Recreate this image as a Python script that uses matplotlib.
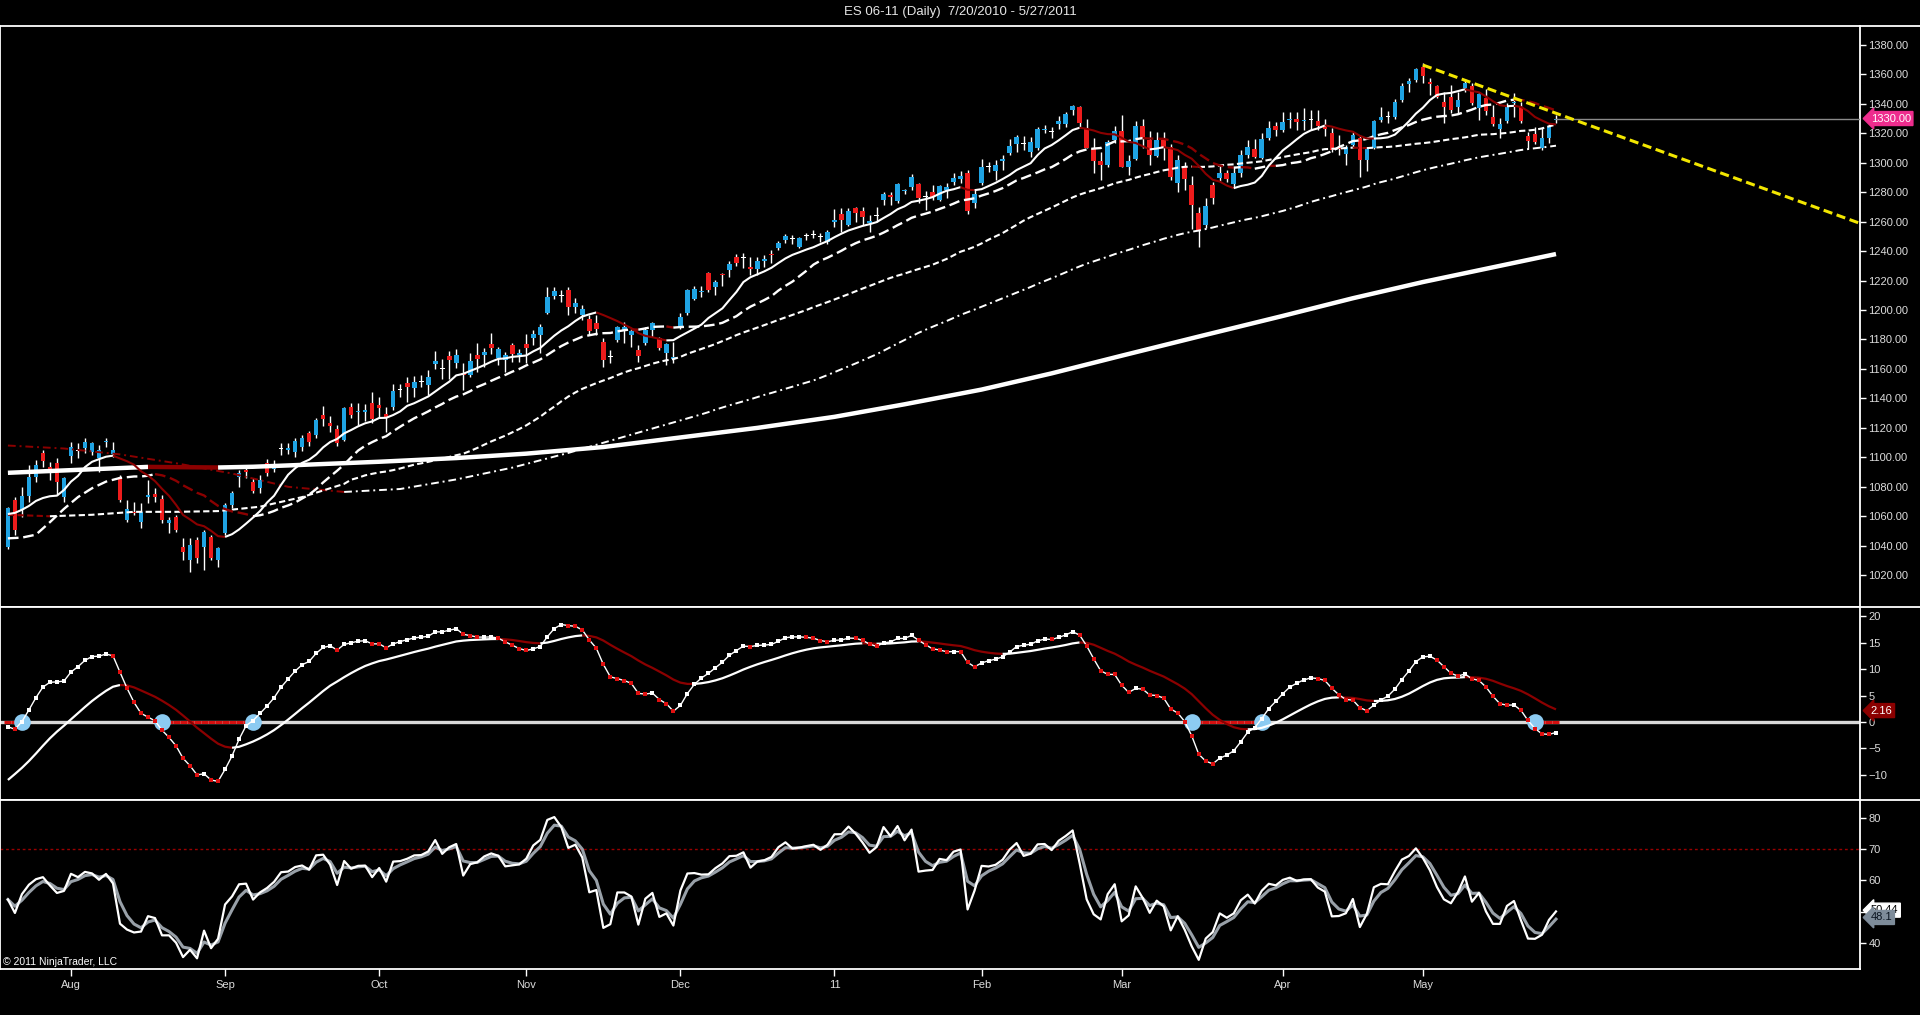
import numpy as np
import pandas as pd
import matplotlib
matplotlib.use("Agg")
import matplotlib.pyplot as plt
from matplotlib.transforms import blended_transform_factory
from matplotlib.lines import Line2D

plt.rcParams['font.family'] = ['Liberation Sans', 'DejaVu Sans']

title = "ES 06-11 (Daily)  7/20/2010 - 5/27/2011"
copyright_txt = "\u00a9 2011 NinjaTrader, LLC"

# ---------------- daily bars 7/20/2010 .. 5/27/2011 (222 bars) ----------------
opens = [1039.3,1071.0,1064.2,1073.7,1086.8,1102.7,1093.6,1095.9,1072.8,1101.1,
 1104.5,1106.1,1103.8,1099.3,1110.4,1102.0,1086.8,1057.4,1063.1,1056.3,
 1072.8,1075.0,1071.4,1055.2,1059.7,1038.9,1030.3,1043.8,1039.3,1046.1,
 1030.3,1048.4,1067.6,1086.4,1091.4,1083.4,1078.9,1096.3,1091.8,1106.2,
 1105.0,1103.8,1107.2,1116.2,1115.1,1128.7,1123.5,1119.0,1112.0,1133.9,
 1130.5,1130.8,1136.6,1135.5,1129.4,1134.4,1145.8,1150.6,1147.3,1151.5,
 1149.0,1163.6,1160.3,1168.7,1163.8,1157.2,1155.8,1169.7,1169.4,1176.9,
 1167.6,1166.0,1176.2,1169.2,1176.8,1180.7,1183.0,1197.7,1209.6,1209.8,
 1213.5,1202.2,1196.6,1193.9,1190.9,1178.0,1168.3,1179.6,1186.0,1183.0,
 1172.8,1177.3,1186.4,1181.0,1170.6,1166.5,1188.2,1197.7,1207.6,1212.4,
 1225.3,1215.8,1224.5,1227.1,1236.2,1235.3,1229.4,1227.7,1233.6,1238.1,
 1241.8,1247.2,1248.3,1243.0,1250.2,1251.2,1249.7,1246.3,1259.8,1265.1,
 1257.7,1269.0,1267.4,1258.8,1264.2,1274.6,1278.0,1274.0,1280.5,1283.7,
 1285.5,1276.8,1280.1,1274.6,1281.4,1287.1,1288.7,1292.7,1272.4,1286.0,
 1297.3,1294.6,1301.1,1306.3,1312.7,1312.8,1307.5,1309.7,1322.2,1321.0,
 1326.3,1326.5,1336.0,1337.8,1323.3,1309.0,1301.4,1298.4,1315.4,1321.2,
 1297.3,1302.6,1324.9,1315.4,1304.8,1315.4,1311.0,1286.0,1297.5,1285.0,
 1266.0,1258.0,1285.0,1289.4,1293.2,1285.5,1293.2,1305.2,1309.3,1303.0,
 1316.5,1324.9,1322.4,1328.7,1329.6,1328.0,1329.4,1328.4,1324.0,1320.4,
 1310.0,1306.0,1312.0,1316.5,1302.0,1309.7,1329.2,1331.3,1331.2,1342.6,
 1353.2,1356.1,1365.2,1354.5,1352.0,1341.0,1344.8,1338.0,1350.5,1352.0,
 1337.4,1343.7,1331.2,1322.6,1328.5,1340.3,1338.0,1318.0,1319.5,1309.7,
 1316.5,1328.7]

highs = [1066.5,1072.8,1080.0,1094.8,1098.1,1104.9,1097.0,1099.3,1086.8,1110.6,
 1109.5,1112.9,1110.6,1108.3,1112.9,1110.6,1088.0,1071.0,1069.9,1068.7,
 1084.6,1078.9,1074.4,1059.7,1060.8,1045.0,1045.0,1046.1,1050.6,1047.2,
 1039.3,1068.7,1077.1,1091.4,1093.0,1085.7,1088.0,1099.0,1098.0,1109.5,
 1110.0,1113.0,1115.0,1118.0,1127.0,1134.8,1128.0,1122.0,1134.0,1136.6,
 1137.0,1136.0,1144.6,1141.2,1134.3,1150.0,1149.5,1154.2,1155.0,1155.8,
 1159.5,1172.0,1167.0,1172.4,1173.4,1164.0,1170.8,1177.3,1174.0,1184.2,
 1174.6,1171.7,1177.3,1173.5,1184.0,1186.6,1190.5,1215.8,1215.8,1213.5,
 1215.6,1207.9,1203.4,1196.6,1196.6,1180.7,1172.8,1189.1,1192.0,1186.9,
 1176.2,1188.2,1192.0,1182.0,1177.8,1178.5,1198.2,1214.0,1216.3,1216.3,
 1225.5,1220.5,1225.3,1233.2,1237.8,1238.4,1236.0,1236.0,1237.3,1240.7,
 1247.0,1251.5,1250.8,1249.7,1252.3,1254.0,1252.5,1254.0,1268.5,1269.0,
 1269.0,1270.0,1270.0,1264.4,1269.6,1280.3,1280.0,1286.0,1282.3,1292.3,
 1286.0,1281.0,1284.8,1284.8,1286.0,1292.7,1294.3,1295.0,1281.4,1302.2,
 1300.7,1301.8,1305.2,1315.8,1318.8,1318.0,1317.6,1324.4,1325.6,1324.5,
 1331.5,1334.5,1339.2,1338.2,1330.0,1316.5,1307.5,1315.4,1324.7,1332.3,
 1305.2,1328.0,1330.0,1321.2,1321.0,1321.0,1312.5,1305.2,1300.5,1291.0,
 1270.0,1276.0,1287.0,1298.4,1295.0,1297.3,1308.6,1315.4,1316.1,1319.9,
 1328.5,1327.5,1334.6,1334.6,1334.6,1336.9,1336.0,1335.8,1330.0,1323.3,
 1318.8,1312.0,1321.0,1318.8,1311.0,1329.0,1338.0,1335.0,1343.5,1353.9,
 1357.3,1364.0,1367.4,1357.3,1352.7,1348.0,1352.7,1348.0,1356.6,1353.9,
 1348.2,1349.8,1339.2,1330.1,1340.3,1347.1,1341.4,1321.0,1324.0,1324.0,
 1326.1,1332.4]

lows = [1038.0,1047.2,1059.7,1069.9,1083.4,1093.6,1084.6,1074.4,1069.8,1095.9,
 1099.3,1102.7,1101.5,1090.2,1107.2,1100.4,1069.9,1056.3,1060.8,1052.2,
 1068.7,1069.5,1055.2,1048.4,1049.5,1030.3,1022.3,1028.0,1023.5,1030.3,
 1025.7,1047.2,1065.3,1080.0,1086.0,1075.5,1076.0,1087.0,1090.0,1101.5,
 1102.0,1100.0,1104.0,1108.0,1113.0,1121.0,1117.0,1108.0,1111.0,1127.0,
 1122.0,1125.0,1123.0,1127.6,1117.4,1132.0,1141.0,1137.8,1141.2,1148.0,
 1142.0,1160.2,1153.3,1153.3,1160.4,1145.7,1154.7,1158.1,1161.5,1170.3,
 1162.6,1158.1,1164.5,1164.9,1163.8,1176.5,1170.6,1197.3,1207.4,1205.6,
 1196.6,1197.7,1193.2,1183.0,1183.0,1161.5,1163.8,1178.5,1177.3,1175.1,
 1164.9,1176.2,1181.9,1172.8,1162.6,1163.8,1187.1,1196.6,1206.8,1209.0,
 1212.0,1210.0,1216.5,1222.6,1229.6,1228.3,1223.7,1223.7,1229.4,1231.6,
 1240.7,1245.5,1245.0,1241.8,1247.5,1249.0,1246.5,1244.5,1256.5,1253.0,
 1257.0,1260.0,1257.7,1253.0,1260.0,1271.3,1271.0,1272.4,1279.0,1281.4,
 1272.4,1268.0,1275.0,1274.0,1276.0,1284.8,1286.0,1265.0,1269.0,1284.8,
 1293.9,1288.2,1295.0,1305.2,1307.5,1308.6,1304.0,1308.6,1320.0,1317.0,
 1322.6,1324.0,1332.3,1324.2,1309.7,1293.0,1288.2,1297.0,1313.1,1296.8,
 1291.6,1302.0,1309.7,1298.4,1304.0,1302.0,1288.2,1280.0,1281.4,1255.0,
 1243.0,1256.0,1272.0,1287.5,1287.0,1283.7,1290.5,1303.0,1303.0,1302.3,
 1315.4,1318.0,1321.0,1323.3,1322.2,1322.0,1322.0,1322.2,1318.0,1307.5,
 1305.0,1298.4,1310.0,1290.5,1294.6,1309.0,1327.9,1327.0,1330.0,1341.4,
 1348.0,1355.0,1353.9,1346.0,1343.7,1326.7,1333.5,1333.5,1348.2,1339.2,
 1329.0,1332.4,1324.9,1316.5,1326.7,1331.2,1326.7,1309.0,1313.0,1308.6,
 1313.1,1327.0]

closes = [1065.3,1050.6,1073.7,1086.8,1094.8,1097.7,1090.2,1083.4,1085.7,1106.7,
 1104.0,1110.6,1109.5,1105.0,1111.3,1104.9,1071.0,1064.9,1061.9,1062.6,
 1074.4,1072.8,1057.4,1057.4,1050.6,1035.9,1040.4,1031.4,1049.5,1031.4,
 1038.2,1067.6,1076.0,1089.5,1090.2,1077.3,1084.6,1089.1,1095.4,1105.8,
 1106.5,1111.3,1112.9,1110.6,1125.3,1126.0,1121.0,1110.0,1133.2,1128.7,
 1131.6,1131.8,1125.8,1133.7,1126.5,1145.0,1145.5,1147.8,1151.0,1151.3,
 1154.5,1165.6,1160.0,1166.2,1169.3,1155.8,1165.1,1166.7,1171.7,1174.3,
 1173.4,1169.4,1170.1,1170.7,1174.3,1183.7,1188.2,1209.0,1212.8,1209.5,
 1202.2,1205.0,1200.4,1185.7,1187.1,1166.0,1168.0,1188.2,1188.2,1186.0,
 1168.7,1186.4,1190.9,1174.4,1176.9,1167.8,1195.4,1213.5,1214.0,1213.0,
 1213.3,1219.2,1223.8,1231.2,1231.6,1235.0,1228.0,1233.3,1234.4,1237.1,
 1245.7,1250.3,1248.0,1248.8,1250.0,1251.0,1249.5,1253.0,1261.0,1261.1,
 1267.4,1265.6,1263.3,1260.6,1264.0,1279.0,1276.5,1285.3,1281.2,1290.5,
 1275.8,1276.5,1276.9,1284.1,1283.7,1289.4,1290.9,1267.3,1278.5,1297.3,
 1297.0,1298.4,1302.5,1311.3,1317.6,1312.5,1314.3,1322.6,1322.9,1320.8,
 1328.6,1333.0,1338.4,1326.7,1310.0,1301.4,1298.3,1314.0,1321.3,1297.3,
 1301.4,1324.9,1316.7,1305.2,1315.4,1311.0,1290.5,1301.8,1289.0,1271.0,
 1253.5,1270.5,1276.0,1293.2,1288.8,1292.8,1305.2,1310.9,1303.6,1316.1,
 1323.3,1322.2,1327.6,1329.7,1327.8,1329.0,1329.2,1324.9,1322.8,1308.8,
 1309.0,1310.5,1318.6,1302.0,1309.7,1328.5,1331.2,1331.0,1341.4,1352.0,
 1355.5,1363.3,1358.9,1353.2,1344.8,1338.0,1335.8,1342.9,1354.3,1340.3,
 1346.6,1335.1,1326.3,1326.3,1337.6,1340.9,1328.5,1314.5,1314.3,1316.5,
 1324.9,1330.0]

# month starts (bar index) and axis labels
month_ticks = [9, 31, 53, 74, 96, 118, 139, 159, 182, 202]
month_labels = ['Aug', 'Sep', 'Oct', 'Nov', 'Dec', '11', 'Feb', 'Mar', 'Apr', 'May']

# moving-average values before their windows fill
sma10_head_idx = [0, 1, 2, 3, 4, 5, 6, 7, 8]
sma10_head = [1061.5, 1062.3, 1064.4, 1067.0, 1070.4, 1072.4, 1073.6, 1074.0, 1077.8]
sma20_head_idx = [0, 2, 4, 6, 8, 10, 12, 14, 16, 18]
sma20_head = [1045.0, 1045.5, 1047.5, 1056.0, 1065.0, 1073.0, 1079.0, 1083.5, 1086.0, 1087.0]
sma50_head_idx = [0, 6, 12, 18, 24, 30, 36, 42, 48]
sma50_head = [1061.0, 1060.0, 1061.0, 1063.0, 1063.0, 1063.5, 1066.5, 1073.0, 1082.0]
sma100_head_idx = [0, 8, 16, 24, 32, 40, 48, 56, 64, 72, 80, 88, 96]
sma100_head = [1108.0, 1106.0, 1102.0, 1096.0, 1089.0, 1080.0, 1076.5, 1078.5, 1085.0, 1093.0, 1103.0, 1114.0, 1125.0]
sma200_idx = [0, 10, 20, 25, 30, 35, 40, 53, 64, 74, 85, 96, 107, 118, 128, 139, 149, 159, 170, 182, 192, 202, 212, 221]
sma200 = [1089.5, 1091.5, 1093.5, 1093.3, 1093.1, 1093.6, 1094.5, 1097.0, 1099.5, 1102.5, 1107.0, 1113.5, 1120.0,
          1127.5, 1136.0, 1146.0, 1157.0, 1169.0, 1182.0, 1196.0, 1208.0, 1219.0, 1229.0, 1238.0]

# indicator starting states (at first bar)
macd_ema12_start, macd_ema26_start, macd_avg_start = 1057.6, 1058.5, -11.0
rsi_gain_start, rsi_loss_start = 7.0, 6.0

# trend line and value tags
trend_x = [202, 264.3]
trend_y = [1366.3, 1259.0]
last_price = 1330.00
macd_avg_last = 2.16
rsi_last = 50.44
rsi_avg_last = 48.1

# ---------------------------------------------------------------------------
o = np.array(opens); h = np.array(highs); l = np.array(lows); c = np.array(closes)
N = len(c); idx = np.arange(N)

W, H = 1920, 1015
fig = plt.figure(figsize=(W / 100, H / 100), dpi=100, facecolor='black')

def rect(x0, y0, x1, y1):
    return [x0 / W, 1 - y1 / H, (x1 - x0) / W, (y1 - y0) / H]

ax1 = fig.add_axes(rect(0, 26, 1860, 607))
ax2 = fig.add_axes(rect(0, 607, 1860, 800))
ax3 = fig.add_axes(rect(0, 800, 1860, 969))
XL = (-1.13, 264.4)
for ax in (ax1, ax2, ax3):
    ax.set_facecolor('black')
    ax.set_xlim(*XL)
    for s in ax.spines.values():
        s.set_color('white'); s.set_linewidth(1.3)
    ax.yaxis.tick_right()
    ax.tick_params(axis='y', which='both', direction='out', length=4, width=1,
                   colors='white', labelcolor='#DCDCDC', labelsize=8, pad=2,
                   left=False, right=True)
    ax.tick_params(axis='x', bottom=False, labelbottom=False)

UP, DN = '#FFFFFF', '#8B0000'

def plot_colored(ax, x, y, ls, lw, z=4):
    x = np.asarray(x, float); y = np.asarray(y, float)
    rising = np.diff(y) >= 0
    start = 0
    for k in range(1, len(rising) + 1):
        if k == len(rising) or rising[k] != rising[start]:
            ax.plot(x[start:k + 1], y[start:k + 1], color=UP if rising[start] else DN,
                    ls=ls, lw=lw, zorder=z, solid_capstyle='butt', dash_capstyle='butt')
            start = k

# ---------------- price panel ----------------
ax1.set_ylim(998.4, 1392.8)
ax1.set_yticks(np.arange(1020, 1381, 20))
ax1.set_yticklabels([f'{v:.2f}' for v in np.arange(1020, 1381, 20)])

ax1.vlines(idx, l, h, color='white', lw=1.0, zorder=2)
body_b = np.minimum(o, c)
body_h = np.maximum(np.abs(c - o), 0.7)
cols = np.where(np.abs(c - o) < 0.55, '#FFFFFF', np.where(c >= o, '#1FA3E3', '#EE1C1C'))
ax1.bar(idx, body_h, bottom=body_b, width=0.66, color=cols, edgecolor='none', zorder=3)

cs = pd.Series(c)
def ma_line(head_idx, head_val, n):
    comp = cs.rolling(n).mean().values
    x = list(head_idx) + list(range(n - 1, N))
    y = list(head_val) + list(comp[n - 1:])
    return x, y

plot_colored(ax1, sma200_idx, sma200, '-', 3.2)
x, y = ma_line(sma100_head_idx, sma100_head, 100)
plot_colored(ax1, x, y, (0, (4, 2, 1, 2)), 1.4)
x, y = ma_line(sma50_head_idx, sma50_head, 50)
plot_colored(ax1, x, y, (0, (3, 1.6)), 1.5)
x, y = ma_line(sma20_head_idx, sma20_head, 20)
plot_colored(ax1, x, y, (0, (4.5, 2)), 1.7)
x, y = ma_line(sma10_head_idx, sma10_head, 10)
plot_colored(ax1, x, y, '-', 1.5)

ax1.plot([N - 1, XL[1]], [last_price, last_price], color='#8A8A8A', lw=1, zorder=3)
ax1.plot(trend_x, trend_y, color='#F2E600', lw=2.2, ls=(0, (3, 1.5)), zorder=6)

tr1 = blended_transform_factory(ax1.transAxes, ax1.transData)
ax1.text(1.0058, last_price, f'{last_price:.2f}', transform=tr1, ha='left', va='center',
         fontsize=8, color='white', clip_on=False, zorder=10,
         bbox=dict(boxstyle='larrow,pad=0.18', fc='#EE2D8E', ec='#EE2D8E'))

# ---------------- MACD panel ----------------
a12, a26, asg = 2 / 13, 2 / 27, 2 / 17
e12 = np.empty(N); e26 = np.empty(N); sig = np.empty(N)
e12[0], e26[0] = macd_ema12_start, macd_ema26_start
for i in range(1, N):
    e12[i] = e12[i - 1] + a12 * (c[i] - e12[i - 1])
    e26[i] = e26[i - 1] + a26 * (c[i] - e26[i - 1])
macd = e12 - e26
sig[0] = macd_avg_start
for i in range(1, N):
    sig[i] = sig[i - 1] + asg * (macd[i] - sig[i - 1])

ax2.set_ylim(-14.8, 21.8)
ax2.set_yticks([-10, -5, 0, 5, 10, 15, 20])
ax2.axhline(0, color='#D8D8D8', lw=2.4, zorder=1)
neg = np.where(macd < 0)[0]
ax2.hlines(np.zeros(len(neg)), neg - 0.5, neg + 0.5, color='#D41010', lw=2.2, zorder=2)
cross = np.where(np.sign(macd[1:]) != np.sign(macd[:-1]))[0] + 1
ax2.plot(cross, np.zeros(len(cross)), 'o', ms=12, color='#8CCBF2', mew=0, zorder=3)
plot_colored(ax2, idx, sig, '-', 1.6, z=4)
ax2.plot(idx, macd, color='white', lw=1.0, zorder=5)
rise = np.r_[True, np.diff(macd) >= 0]
ax2.plot(idx[rise], macd[rise], 's', color='white', ms=2.8, mew=0, zorder=6)
ax2.plot(idx[~rise], macd[~rise], 's', color='#E01010', ms=2.8, mew=0, zorder=6)

tr2 = blended_transform_factory(ax2.transAxes, ax2.transData)
ax2.text(1.0058, macd_avg_last, f'{macd_avg_last:.2f}', transform=tr2, ha='left', va='center',
         fontsize=8, color='white', clip_on=False, zorder=10,
         bbox=dict(boxstyle='larrow,pad=0.18', fc='#8B0000', ec='#8B0000'))

# ---------------- RSI panel ----------------
ag = np.empty(N); al = np.empty(N)
ag[0], al[0] = rsi_gain_start, rsi_loss_start
for i in range(1, N):
    ch = c[i] - c[i - 1]
    ag[i] = (ag[i - 1] * 13 + max(ch, 0)) / 14
    al[i] = (al[i - 1] * 13 + max(-ch, 0)) / 14
rsi = 100 - 100 / (1 + ag / al)
ravg = np.empty(N); ravg[0] = rsi[0]
for i in range(1, N):
    ravg[i] = ravg[i - 1] + 0.5 * (rsi[i] - ravg[i - 1])

ax3.set_ylim(31.6, 85.7)
ax3.set_yticks([40, 50, 60, 70, 80])
ax3.set_yticklabels(['40', '', '60', '70', '80'])
ax3.axhline(70, color='#9A0000', lw=1.0, ls=(0, (2, 2)), zorder=1)
ax3.plot(idx, ravg, color='#98A0A8', lw=2.2, zorder=3)
ax3.plot(idx, rsi, color='white', lw=1.6, zorder=4)

tr3 = blended_transform_factory(ax3.transAxes, ax3.transData)
ax3.text(1.0058, rsi_last, f'{rsi_last:.2f}', transform=tr3, ha='left', va='center',
         fontsize=8, color='black', clip_on=False, zorder=10,
         bbox=dict(boxstyle='larrow,pad=0.18', fc='white', ec='white'))
ax3.text(1.0058, rsi_avg_last, f'{rsi_avg_last:.1f}', transform=tr3, ha='left', va='center',
         fontsize=8, color='#0A1420', clip_on=False, zorder=11,
         bbox=dict(boxstyle='larrow,pad=0.18', fc='#7E8C9A', ec='#7E8C9A'))

ax3.set_xticks(month_ticks)
ax3.set_xticklabels(month_labels)
ax3.tick_params(axis='x', bottom=True, labelbottom=True, direction='out', length=5, width=1,
                colors='white', labelcolor='#DCDCDC', labelsize=8, pad=3)

# separators extending into the axis area
for yy in (26, 607, 800):
    fig.add_artist(Line2D([1860 / W, 1.0], [1 - yy / H, 1 - yy / H], color='white', lw=1.3))

fig.text(0.5, 1 - 12 / H, title, ha='center', va='center', color='#E6E6E6', fontsize=9.5)
fig.text(3 / W, 1 - 962 / H, copyright_txt, ha='left', va='center', color='white', fontsize=7.5)

fig.savefig('out.png', dpi=100, facecolor='black')
